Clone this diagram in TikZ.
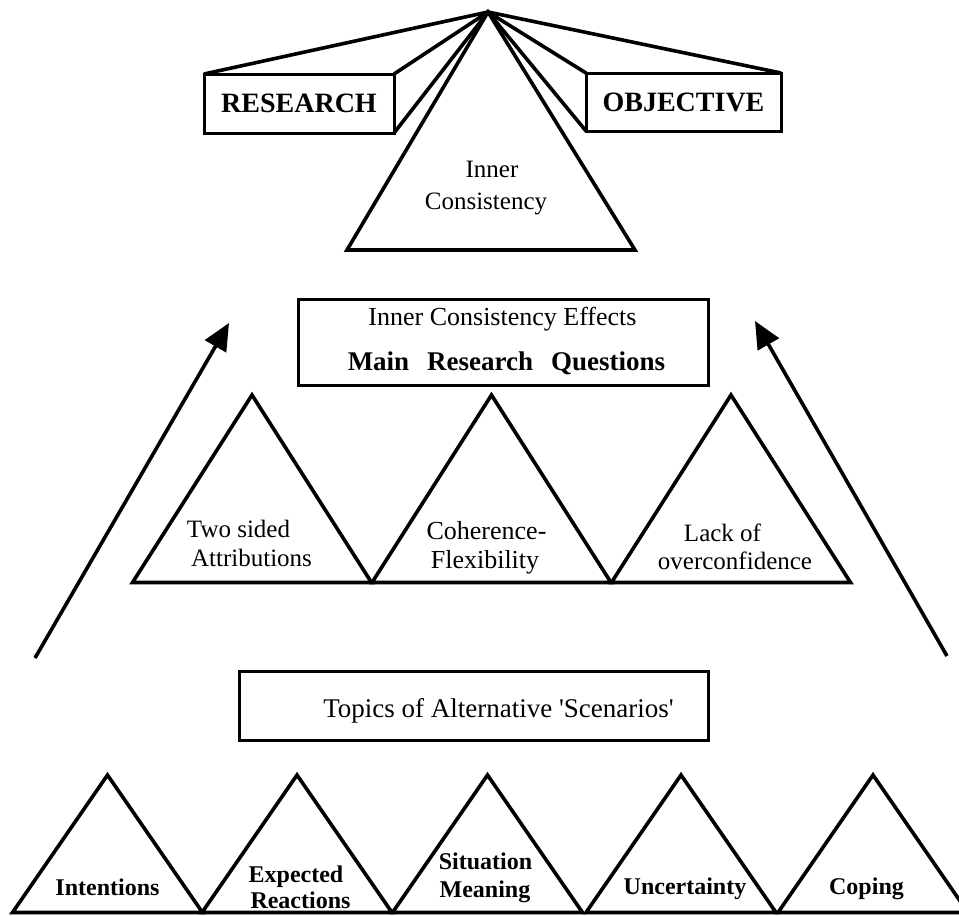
\documentclass[tikz,border=0pt]{standalone}
\usepackage{fontspec}
\setmainfont{Liberation Serif}
\usetikzlibrary{arrows.meta}
\begin{document}
\begin{tikzpicture}[x=1pt,y=-1pt,
  tri/.style={line width=3.6pt, line join=miter},
  ray/.style={line width=3.6pt},
  boxnode/.style={draw, line width=3pt, inner sep=0pt, outer sep=0pt},
  reg/.style={font=\fontsize{25}{30}\selectfont, inner sep=0pt, anchor=base},
  regl/.style={font=\fontsize{26}{30}\selectfont, inner sep=0pt, anchor=base},
  bld/.style={font=\fontsize{24}{29}\selectfont\bfseries, inner sep=0pt, anchor=base},
  arr/.style={line width=3.6pt, -{Triangle[length=27pt,width=24pt]}}]
\useasboundingbox (0,0) rectangle (959,916);

% ---- top: research objective ----
\coordinate (apex) at (488,12);
\node[boxnode, minimum width=190pt, minimum height=59pt,
      font=\fontsize{28}{34}\selectfont\bfseries] (research) at (299,103.5) {RESEARCH};
\node[boxnode, minimum width=195pt, minimum height=58pt,
      font=\fontsize{28}{34}\selectfont\bfseries] (objective) at (683.5,102) {OBJECTIVE};
\draw[ray] (apex) -- (research.north west);
\draw[ray] (apex) -- (research.north east);
\draw[ray] (apex) -- (research.south east);
\draw[ray] (apex) -- (objective.north east);
\draw[ray] (apex) -- (objective.north west);
\draw[ray] (apex) -- (objective.south west);
\coordinate (icl) at (347,250);
\coordinate (icr) at (635,250);
\draw[tri] (apex) -- (icl) -- (icr) -- cycle;
\node[reg] (inner) at (492,177) {Inner};
\node[reg] (consist) at (486,209) {Consistency};

% ---- middle box ----
\node[boxnode, minimum width=410pt, minimum height=86pt] (effects) at (503,342) {};
\node[regl] (eff1) at (502.5,325) {Inner Consistency Effects};
\node[font=\fontsize{27}{32}\selectfont\bfseries, inner sep=0pt, anchor=base] (eff2) at (506.5,370)
  {Main\hspace{18pt}Research\hspace{18pt}Questions};

% ---- arrows ----
\coordinate (la0) at (35,658);
\coordinate (la1) at (229,323);
\coordinate (ra0) at (947,656);
\coordinate (ra1) at (755,321);
\draw[arr] (la0) -- (la1);
\draw[arr] (ra0) -- (ra1);

% ---- middle triangles ----
\foreach \c in {252,491.5,731}
  \draw[tri] (\c-119.5,582.5) -- (\c,395) -- (\c+119.5,582.5) -- cycle;
\node[reg] (m1a) at (238.5,537) {Two sided};
\node[reg] (m1b) at (251.5,566) {Attributions};
\node[regl] (m2a) at (486.5,539) {Coherence-};
\node[regl] (m2b) at (485,568) {Flexibility};
\node[reg] (m3a) at (722.5,541) {Lack of};
\node[reg] (m3b) at (735,569) {overconfidence};

% ---- topics box ----
\node[boxnode, minimum width=469pt, minimum height=69pt] (topics) at (473.5,705.5) {};
\node[font=\fontsize{27}{32}\selectfont, inner sep=0pt, anchor=base] (topt) at (498.5,717)
  {Topics of Alternative \textquotesingle Scenarios\textquotesingle};

% ---- bottom triangles ----
\foreach \c in {107.5,297,487.5,681,873}
  \draw[tri] (\c-95,912.5) -- (\c,775) -- (\c+95,912.5) -- cycle;
\node[bld] (b1) at (107.5,895) {Intentions};
\node[bld] (b2a) at (296,882) {Expected};
\node[bld] (b2b) at (300.5,908) {Reactions};
\node[bld] (b3a) at (485.5,869) {Situation};
\node[bld] (b3b) at (485,897) {Meaning};
\node[bld] (b4) at (685,894) {Uncertainty};
\node[bld] (b5) at (866.5,894) {Coping};
\end{tikzpicture}
\end{document}
